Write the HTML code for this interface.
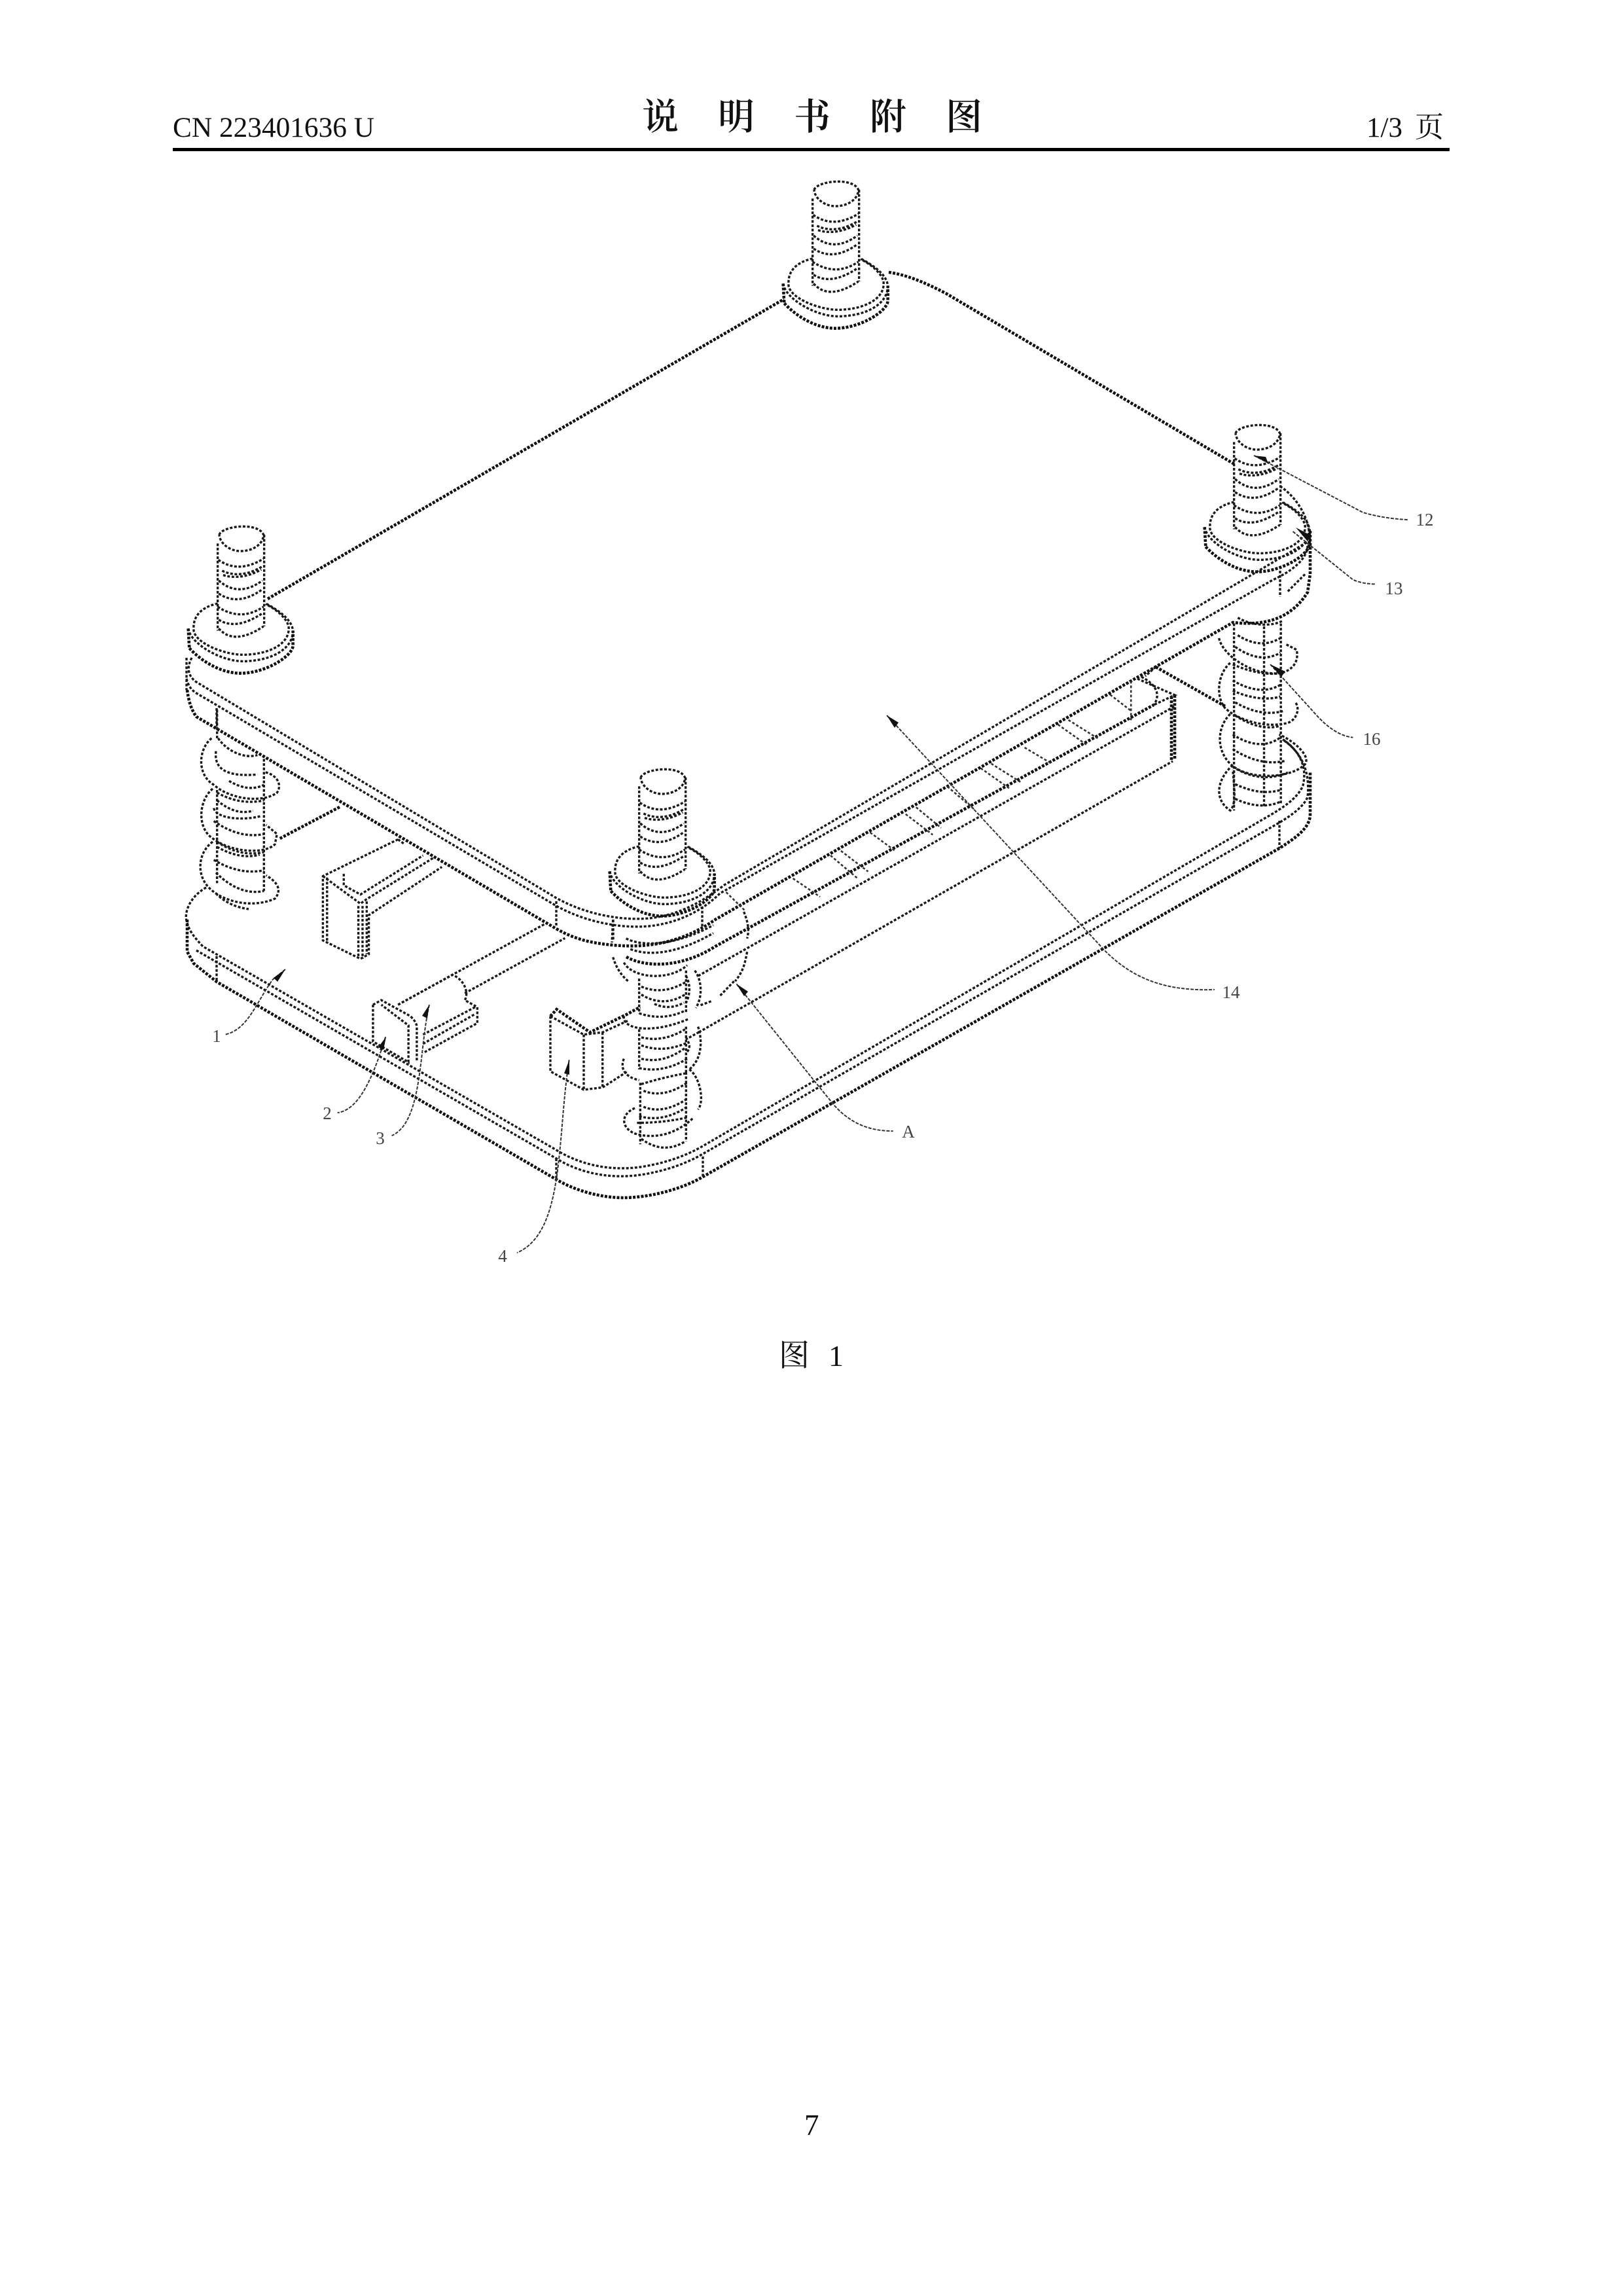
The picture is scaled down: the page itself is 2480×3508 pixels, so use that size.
<!DOCTYPE html>
<html><head><meta charset="utf-8"><style>
html,body{margin:0;padding:0;background:#fff}
svg{display:block}
.l path,.l line,.l ellipse{vector-effect:non-scaling-stroke}
.l{fill:none;stroke:#1a1a1a;stroke-width:3.4;stroke-dasharray:4 2.6}
.l .t{stroke-width:4.6;stroke-dasharray:4 2.2;stroke:#111}
.l .n{stroke-width:2.6;stroke-dasharray:4 3;stroke:#333}
.lead{fill:none;stroke:#333;stroke-width:2;stroke-dasharray:5 2}
.lead path{vector-effect:non-scaling-stroke}
.lab{font-family:"Liberation Serif",serif;font-size:27px;fill:#444;text-anchor:middle}
.hd{font-family:"Liberation Serif","Noto Serif CJK SC",serif;fill:#111}
.cj{font-family:"Noto Serif CJK SC","Liberation Serif",serif;fill:#111}
</style></head><body>
<svg xmlns="http://www.w3.org/2000/svg" xmlns:xlink="http://www.w3.org/1999/xlink" width="2480" height="3508" viewBox="0 0 2480 3508">
<rect width="2480" height="3508" fill="#fff"/>
<text class="hd" x="264" y="209" font-size="43" textLength="308" lengthAdjust="spacingAndGlyphs">CN 223401636 U</text>
<g class="cj" font-size="56" font-weight="600">
<text x="981" y="198">说</text><text x="1097" y="198">明</text><text x="1213" y="198">书</text><text x="1329" y="198">附</text><text x="1445" y="198">图</text>
</g>
<text class="hd" x="2088" y="209" font-size="43">1/3</text>
<text class="cj" x="2162" y="209" font-size="44">页</text>
<rect x="264" y="226" width="1951" height="5" fill="#000"/>
<text class="cj" x="1190" y="2087" font-size="47">图</text>
<text class="hd" x="1266" y="2087" font-size="46">1</text>
<text class="hd" x="1229" y="3262" font-size="45">7</text>

<defs>
<g id="bolt" class="l">
<g transform="translate(1170,260) scale(.3333)">
<path fill="#fff" stroke="none" d="M215,405 C130,425 80,470 80,530 L85,610 C150,680 240,725 320,725 C430,725 555,650 560,600 L560,530 C555,480 500,440 435,405 L428,90 L222,90 Z"/>
<path d="M222,90 C235,50 400,30 425,90 C425,130 380,165 320,165 C270,165 225,130 222,90"/>
<path d="M215,130 L215,530 M428,90 L428,510"/>
<path d="M218,205 Q310,270 425,200 M235,255 Q320,295 420,235 M240,275 Q320,300 415,250 M220,300 Q310,380 420,300 M220,360 Q310,420 420,340 M215,420 Q320,490 425,420 M220,480 Q300,530 420,450 M220,520 Q290,600 425,510"/>
<path d="M215,405 C130,425 100,470 105,530 C115,590 250,640 330,640 C450,640 550,590 540,510 C530,470 480,430 435,408"/>
<path d="M80,520 C90,590 230,670 330,670 C450,670 560,620 560,530 C555,480 500,440 435,405"/>
<path class="t" d="M85,610 C150,680 240,725 320,725 C430,725 555,650 560,600 L560,530 M80,520 L85,610"/>
</g>
</g>
</defs>

<g class="l">
<!-- bolts top parts -->
<use xlink:href="#bolt" href="#bolt"/>
<use xlink:href="#bolt" href="#bolt" transform="translate(-909,527)"/>
<use xlink:href="#bolt" href="#bolt" transform="translate(644,372)"/>
<use xlink:href="#bolt" href="#bolt" transform="translate(-265,898)"/>

<!-- top plate top face -->
<path class="t" d="M409,915 L1198,457"/>
<path class="t" d="M1358,416 C1385,420 1410,430 1445,448 L1886,709"/>
<path d="M1956,743 C1975,755 1995,780 2000,810"/>

<!-- upper plate edges -->
<path d="M293,1005 C285,1020 287,1033 300,1042 L850,1372 C900,1400 960,1408 1000,1402 C1040,1396 1073,1378 1107,1352 L1998,828"/>
<path d="M285,1037 C288,1048 292,1054 300,1059 L850,1384 C900,1412 960,1420 1000,1414 C1040,1408 1075,1390 1100,1365 L1945,886 C1980,870 2000,850 1998,830"/>
<path class="t" d="M286,1054 C288,1070 292,1084 300,1095 L850,1419 C880,1436 905,1441 937,1444 C1000,1450 1050,1435 1093,1405 L1884,951 C1920,955 1968,953 1998,905 L2002,877 L2002,810"/>
<path d="M285,1005 L285,1054 M331,1082 L331,1110 M850,1377 L850,1416 M937,1405 L937,1438 M1073,1385 L1073,1417 M1956,872 L1956,912"/>
<path class="t" d="M957,1462 C985,1478 1040,1480 1093,1446 L1763,1077"/>
<path d="M1067,1491 L1795,1079"/>
<path d="M1068,1577 L1792,1163"/>
<path class="t" d="M1795,1062 L1795,1160 M1790,1064 L1790,1163"/>
<path d="M1738,1037 L1795,1062 L1763,1077 M1744,1034 C1765,1045 1775,1060 1763,1077 M1766,1019 L1750,1033"/>

<!-- rack teeth (traced in zoom coords) -->
<g transform="translate(1100,900) scale(.6378,.7018)" class="n">
<path d="M15,660 L60,700 M175,630 L240,670 M265,580 L330,630 M290,570 L355,615 M360,530 L420,570 M445,490 L510,535 M470,475 L530,520 M545,430 L610,480 M625,390 L695,435 M650,380 L720,420 M730,345 L795,380 M810,295 L880,340 M835,285 L905,325 M935,230 L985,265 M985,200 L985,290"/>
</g>

<!-- circle A -->
<g transform="translate(880,1140) scale(.3333,.4082)">
<path d="M770,620 C790,660 795,690 785,720 M785,770 C775,810 770,840 730,880 M725,880 L660,935 M620,955 L570,970 M170,650 L165,735 M170,790 C185,830 210,860 240,880"/>
</g>

<!-- lower plate -->
<path class="t" d="M519,1233 L426,1282"/>
<path class="t" d="M1766,1019 L1872,1079"/>
<path d="M1068,1577 L1050,1587"/>
<path d="M315,1356 C290,1370 280,1395 286,1410 C290,1425 300,1435 310,1446 L850,1757 C890,1782 940,1790 985,1782 C1020,1776 1050,1765 1074,1751 L1945,1243 C1970,1228 1985,1215 1991,1200 C1998,1170 1985,1145 1956,1127"/>
<path d="M300,1452 L850,1770 C890,1795 940,1802 985,1794 C1020,1788 1050,1777 1074,1763 L1953,1258 C1975,1245 1992,1232 1998,1218 C2002,1180 1990,1150 1960,1130"/>
<path class="t" d="M286,1405 L286,1454 L296,1472 L331,1500 L850,1802 C880,1820 920,1830 952,1830 C990,1830 1040,1818 1074,1798 L1955,1296 C1980,1280 2002,1265 2002,1244 L2002,1180"/>
<path d="M331,1461 L331,1500 M850,1770 L850,1802 M1074,1767 L1074,1798 M1955,1254 L1955,1296"/>

<!-- part at back left, rod, parts 2,3,4 (zoom 2 coords) -->
<g transform="translate(200,900) scale(.6378,.7018)">
<path d="M640,545 L460,625 L460,765 L550,805 L570,795 L570,710 L745,605"/>
<path d="M470,628 L470,770 M545,690 L545,800 M555,690 L555,805 M565,680 L565,795"/>
<path d="M460,625 L550,685 L565,675 L725,585 M510,620 L510,645 L550,665 L700,580 M640,545 L655,555"/>
<path d="M640,905 L990,730 M800,880 L1040,760"/>
<path d="M640,905 L770,840 C800,850 810,880 800,895 L830,910 L830,945 L700,1010 M700,970 L825,910 M700,990 L825,925"/>
<path d="M580,905 L600,895 L670,930 C680,940 685,945 685,955 L685,1030 M580,905 L580,985 L665,1030 L665,950 L600,905"/>
<path class="t" d="M1005,930 L1020,915 L1100,965 L1190,925 L1220,910"/>
<path d="M1005,930 L1085,970 L1130,965 L1190,940 M1005,930 L1005,1050 L1085,1090 L1130,1085 L1190,1050 M1085,970 L1085,1090 M1130,965 L1130,1085"/>
</g>

<!-- front bolt lower (zoom 7 coords) -->
<g transform="translate(880,1140) scale(.3333,.4082)">
<path d="M290,870 L290,1000 M505,840 L505,1000 M290,1060 L290,1210 M505,1050 L505,1220 M295,1260 L295,1490 M505,1220 L505,1480"/>
<path d="M220,810 C260,870 430,880 510,820 M300,900 Q400,935 510,880 M300,930 Q400,980 500,930 M360,965 Q430,990 495,960 M290,1000 Q400,1030 500,990 M220,1010 C210,1060 350,1080 520,1020 M300,1090 Q400,1110 500,1060 M300,1120 Q400,1150 510,1110 M300,1170 Q400,1190 500,1130 M290,1205 Q400,1225 510,1170 M300,1265 Q400,1240 500,1225 M310,1290 Q400,1320 510,1260 M310,1350 Q400,1380 510,1320 M290,1385 Q400,1410 510,1350 M280,1410 Q400,1410 510,1390 M300,1470 Q400,1530 500,1480"/>
<path d="M270,1355 C200,1380 210,1430 270,1450 C350,1470 450,1460 540,1390 M520,1210 C570,1240 590,1330 560,1360 M545,840 C580,880 580,940 550,980 M560,1050 C580,1100 580,1170 520,1210 M220,1170 C200,1210 230,1240 290,1250 M505,860 C525,890 525,930 505,960 M505,1090 C525,1120 525,1130 505,1150"/>
<path d="M230,720 C300,750 450,750 630,670 M250,760 C350,790 480,770 630,700"/>
</g>

<!-- right bolt lower (zoom 4 coords) -->
<g transform="translate(1700,600) scale(.3827,.4464)">
<path d="M485,790 L485,1430 M672,790 L672,1410 M605,800 L605,1420"/>
<path d="M500,830 Q590,880 670,840 M490,870 Q590,930 670,890 M480,930 Q590,970 670,960 M480,985 Q590,1040 670,1000 M480,1020 Q590,1060 670,1040 M490,1060 Q590,1110 680,1090 M490,1105 Q590,1160 670,1140 M480,1170 Q590,1230 670,1180 M480,1220 Q590,1280 690,1260 M480,1280 Q590,1340 700,1300 M490,1340 Q590,1380 670,1360 M490,1390 Q590,1430 670,1400"/>
<path d="M425,840 C440,900 560,970 670,960 C720,950 745,920 735,880 L690,860 M470,925 C420,960 410,1040 450,1080 C500,1120 610,1150 700,1130 C735,1120 750,1080 730,1060 M470,1100 C420,1140 410,1220 470,1270 C540,1330 720,1320 770,1270 C790,1240 720,1190 665,1170 M480,1275 C420,1320 400,1390 470,1430 C490,1410 490,1380 480,1290"/>
<path d="M700,680 L770,620 M500,770 C560,800 640,800 680,780"/>
</g>

<!-- left bolt lower (zoom 8 coords) -->
<g transform="translate(260,780) scale(.3333,.3954)">
<path d="M215,770 L215,880 M430,960 L430,1470 M215,1080 L215,1440"/>
<path d="M220,880 C260,930 340,960 400,945 M210,930 C200,1000 260,1030 400,1020 M270,1045 Q360,1090 430,1060 M215,1090 Q320,1140 430,1120 M215,1120 Q300,1180 380,1160 M200,1150 C210,1190 330,1200 420,1180 M200,1200 Q320,1270 430,1250 M215,1280 Q320,1340 430,1320 M215,1300 Q320,1350 410,1330 M200,1350 Q320,1410 430,1390 M210,1400 Q320,1490 430,1470"/>
<path d="M190,880 C130,920 120,1020 200,1060 C280,1120 430,1130 490,1090 C515,1060 490,1020 430,1010 M195,1075 C130,1120 120,1230 200,1270 C280,1320 430,1330 480,1290 L490,1250 L440,1215 M195,1280 C130,1320 120,1400 170,1450 C230,1510 370,1540 480,1500 C510,1470 500,1440 440,1410 M210,1480 Q270,1530 360,1540"/>
</g>
</g>

<!-- leaders -->
<g class="lead">
<g transform="translate(200,900) scale(.6378,.7018)">
<path d="M370,828 L340,850 C300,900 280,960 225,970"/>
<path d="M610,975 C575,1080 540,1135 495,1140"/>
<path d="M715,905 C690,1000 700,1160 625,1190"/>
<path d="M1050,1025 C1020,1200 1040,1400 925,1445"/>
</g>
<g transform="translate(1100,900) scale(.6378,.7018)">
<path d="M40,860 L230,1075 L275,1125 C320,1170 370,1180 415,1180"/>
<path d="M400,275 L920,785 C1000,860 1090,875 1185,872"/>
</g>
<g transform="translate(1700,600) scale(.3827,.4464)">
<path d="M630,930 L800,1090 C860,1150 910,1175 960,1180"/>
<path d="M720,475 L960,640 C985,650 1020,655 1050,655"/>
<path d="M565,215 L1000,410 C1060,425 1120,432 1180,435"/>
</g>
</g>
<!-- arrowheads -->
<g fill="#111" stroke="none">
<path d="M436,1481 L418,1494 L424,1500 Z"/>
<path d="M590,1584 L578,1600 L586,1604 Z"/>
<path d="M656,1535 L645,1552 L653,1556 Z"/>
<path d="M870,1619 L862,1640 L870,1642 Z"/>
<path d="M1125,1503 L1137,1522 L1143,1515 Z"/>
<path d="M1355,1093 L1373,1104 L1367,1112 Z"/>
<path d="M1941,1015 L1958,1034 L1964,1026 Z"/>
<path d="M1980,806 L1998,827 L2003,818 Z"/>
<path d="M1915,696 L1938,708 L1934,698 Z"/>
</g>
<!-- labels -->
<text class="lab" x="331" y="1592">1</text>
<text class="lab" x="500" y="1710">2</text>
<text class="lab" x="581" y="1748">3</text>
<text class="lab" x="768" y="1928">4</text>
<text class="lab" x="1388" y="1738">A</text>
<text class="lab" x="1881" y="1525">14</text>
<text class="lab" x="2096" y="1138">16</text>
<text class="lab" x="2130" y="908">13</text>
<text class="lab" x="2177" y="803">12</text>
</svg>
</body></html>
